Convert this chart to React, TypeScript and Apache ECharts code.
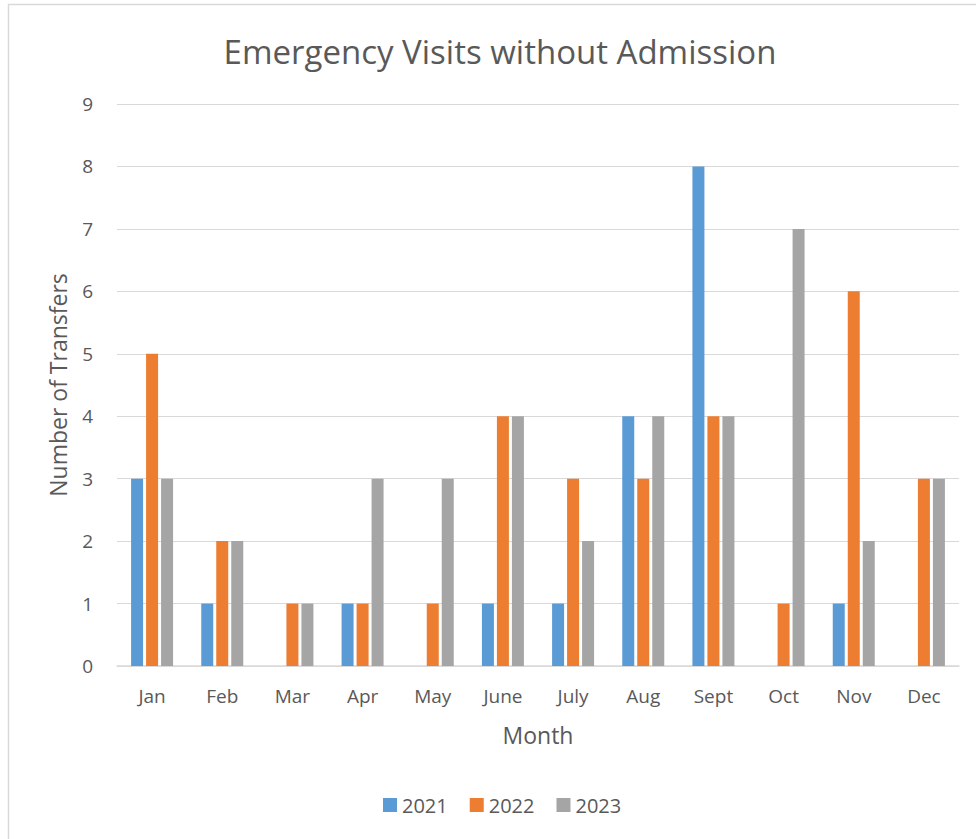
import React, { useEffect, useRef } from "react";
import * as echarts from "echarts";

const months = ["Jan", "Feb", "Mar", "Apr", "May", "June", "July", "Aug", "Sept", "Oct", "Nov", "Dec"];
const visits2021 = [3, 1, 0, 1, 0, 1, 1, 4, 8, 0, 1, 0];
const visits2022 = [5, 2, 1, 1, 1, 4, 3, 3, 4, 1, 6, 3];
const visits2023 = [3, 2, 1, 3, 3, 4, 2, 4, 4, 7, 2, 3];
const seriesNames = ["2021", "2022", "2023"];
const seriesColors = ["#5B9BD5", "#ED7D31", "#A5A5A5"];

const FONT = "'Open Sans', 'Noto Sans', sans-serif";
const TEXT = "#595959";

export default function App() {
  const ref = useRef<HTMLDivElement>(null);

  useEffect(() => {
    if (!ref.current) return;
    const chart = echarts.init(ref.current, undefined, { renderer: "svg" });
    const values = [visits2021, visits2022, visits2023];
    chart.setOption({
      animation: false,
      backgroundColor: "#ffffff",
      textStyle: { fontFamily: FONT, color: TEXT },
      title: {
        text: "Emergency Visits without Admission",
        left: 495,
        textAlign: "center",
        top: 30,
        textStyle: { fontFamily: FONT, fontSize: 33, fontWeight: "normal", color: TEXT },
      },
      graphic: [
        {
          type: "rect",
          shape: { x: 8.5, y: 4.5, width: 1000, height: 1000 },
          style: { fill: "none", stroke: "#D9D9D9", lineWidth: 1.5 },
          silent: true,
        },
      ],
      legend: {
        bottom: 24,
        left: 383,
        padding: 0,
        itemWidth: 14,
        itemHeight: 14,
        itemGap: 22,
        icon: "rect",
        textStyle: { fontFamily: FONT, fontSize: 20, color: TEXT },
        data: seriesNames,
      },
      grid: { left: 117, right: 17, top: 104, bottom: 173 },
      xAxis: {
        type: "category",
        data: months,
        name: "Month",
        nameLocation: "middle",
        nameGap: 57,
        nameTextStyle: { fontFamily: FONT, fontSize: 23, color: TEXT },
        axisLine: { show: true, lineStyle: { color: "#D9D9D9", width: 1.5 } },
        axisTick: { show: false },
        axisLabel: { fontFamily: FONT, fontSize: 19, color: TEXT, margin: 20 },
      },
      yAxis: {
        type: "value",
        min: 0,
        max: 9,
        interval: 1,
        name: "Number of Transfers",
        nameLocation: "middle",
        nameGap: 48,
        nameTextStyle: { fontFamily: FONT, fontSize: 23, color: TEXT },
        axisLine: { show: false },
        axisTick: { show: false },
        axisLabel: { fontFamily: FONT, fontSize: 19, color: TEXT, margin: 24 },
        splitLine: { lineStyle: { color: "#D9D9D9", width: 1.2 } },
      },
      series: seriesNames.map((name, i) => ({
        name,
        type: "bar",
        data: values[i],
        barWidth: 12,
        barGap: "25%",
        itemStyle: { color: seriesColors[i] },
      })),
    });
    return () => chart.dispose();
  }, []);

  return (
    <div
      ref={ref}
      style={{ position: "absolute", left: 0, top: 0, width: 976, height: 839 }}
    />
  );
}
